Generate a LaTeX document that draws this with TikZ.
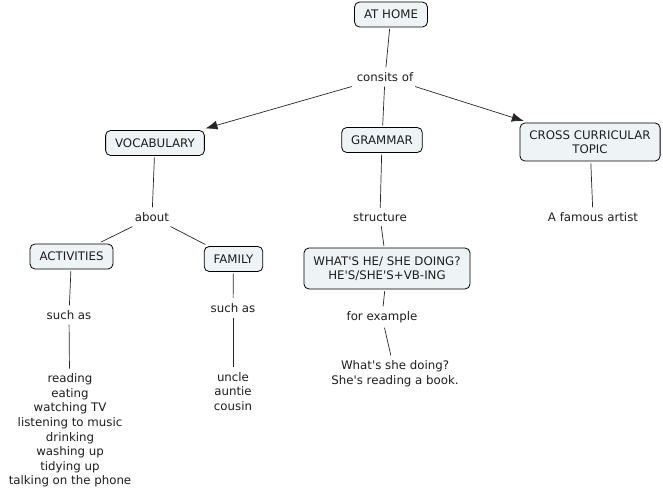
\documentclass[tikz,border=0pt]{standalone}
\usepackage{fontspec}
\setmainfont{DejaVu Sans}[Ligatures=TeXOff]
\usepackage{tikz}
\usetikzlibrary{arrows.meta}
\definecolor{conceptfill}{RGB}{238,243,245}
\definecolor{inkgray}{RGB}{30,30,30}
\tikzset{
	concept/.style={draw=black, fill=conceptfill, rounded corners=5pt, line width=0.8pt,
		inner xsep=9.5pt, minimum height=25pt, align=center, outer sep=2pt,
		font=\fontsize{11.8}{13.5}\selectfont, text=inkgray},
	linkphrase/.style={inner sep=4pt, outer sep=1pt, align=center,
		font=\fontsize{11.8}{14.6}\selectfont, text=inkgray},
	link/.style={draw=black!85, line width=0.7pt},
	linkarrow/.style={link, -{Latex[length=12pt,width=9pt]}}
}
\begin{document}
\begin{tikzpicture}[x=1pt,y=-1pt]
	\useasboundingbox (0,0) rectangle (663,497);
	\node[concept] (athome) at (391,14.5) {AT HOME};
	\node[linkphrase] (consits) at (385,77) {consits of};
	\node[concept] (vocab) at (155,143) {VOCABULARY};
	\node[concept] (grammar) at (382,140) {GRAMMAR};
	\node[concept, minimum height=38pt] (cross) at (590,142) {CROSS CURRICULAR\\TOPIC};
	\node[linkphrase] (about) at (152,217) {about};
	\node[linkphrase] (structure) at (380,217) {structure};
	\node[linkphrase] (famous) at (593,217) {A famous artist};
	\node[concept] (activities) at (71.5,256.5) {ACTIVITIES};
	\node[concept] (family) at (233.5,259) {FAMILY};
	\node[concept, minimum height=41pt] (whats) at (387,268.5) {WHAT'S HE/ SHE DOING?\\HE'S/SHE'S+VB-ING};
	\node[linkphrase] (suchasA) at (69,315) {such as};
	\node[linkphrase] (suchasB) at (233,308) {such as};
	\node[linkphrase] (forexample) at (382,317) {for example};
	\node[linkphrase] (actlist) at (70,430.5) {reading\\eating\\watching TV\\listening to music\\drinking\\washing up\\tidying up\\talking on the phone};
	\node[linkphrase] (famlist) at (233,391.5) {uncle\\auntie\\cousin};
	\node[linkphrase] (example) at (395,373.5) {What's she doing?\\She's reading a book.};
	\draw[link] (athome) -- (consits);
	\draw[linkarrow] (consits) -- (vocab);
	\draw[link] (consits) -- (grammar);
	\draw[linkarrow] (consits) -- (cross);
	\draw[link] (vocab) -- (about);
	\draw[link] (about) -- (activities);
	\draw[link] (about) -- (family);
	\draw[link] (activities) -- (suchasA);
	\draw[link] (suchasA) -- (actlist);
	\draw[link] (family) -- (suchasB);
	\draw[link] (suchasB) -- (famlist);
	\draw[link] (grammar) -- (structure);
	\draw[link] (structure) -- (whats);
	\draw[link] (whats) -- (forexample);
	\draw[link] (forexample) -- (example);
	\draw[link] (cross) -- (famous);
\end{tikzpicture}
\end{document}
